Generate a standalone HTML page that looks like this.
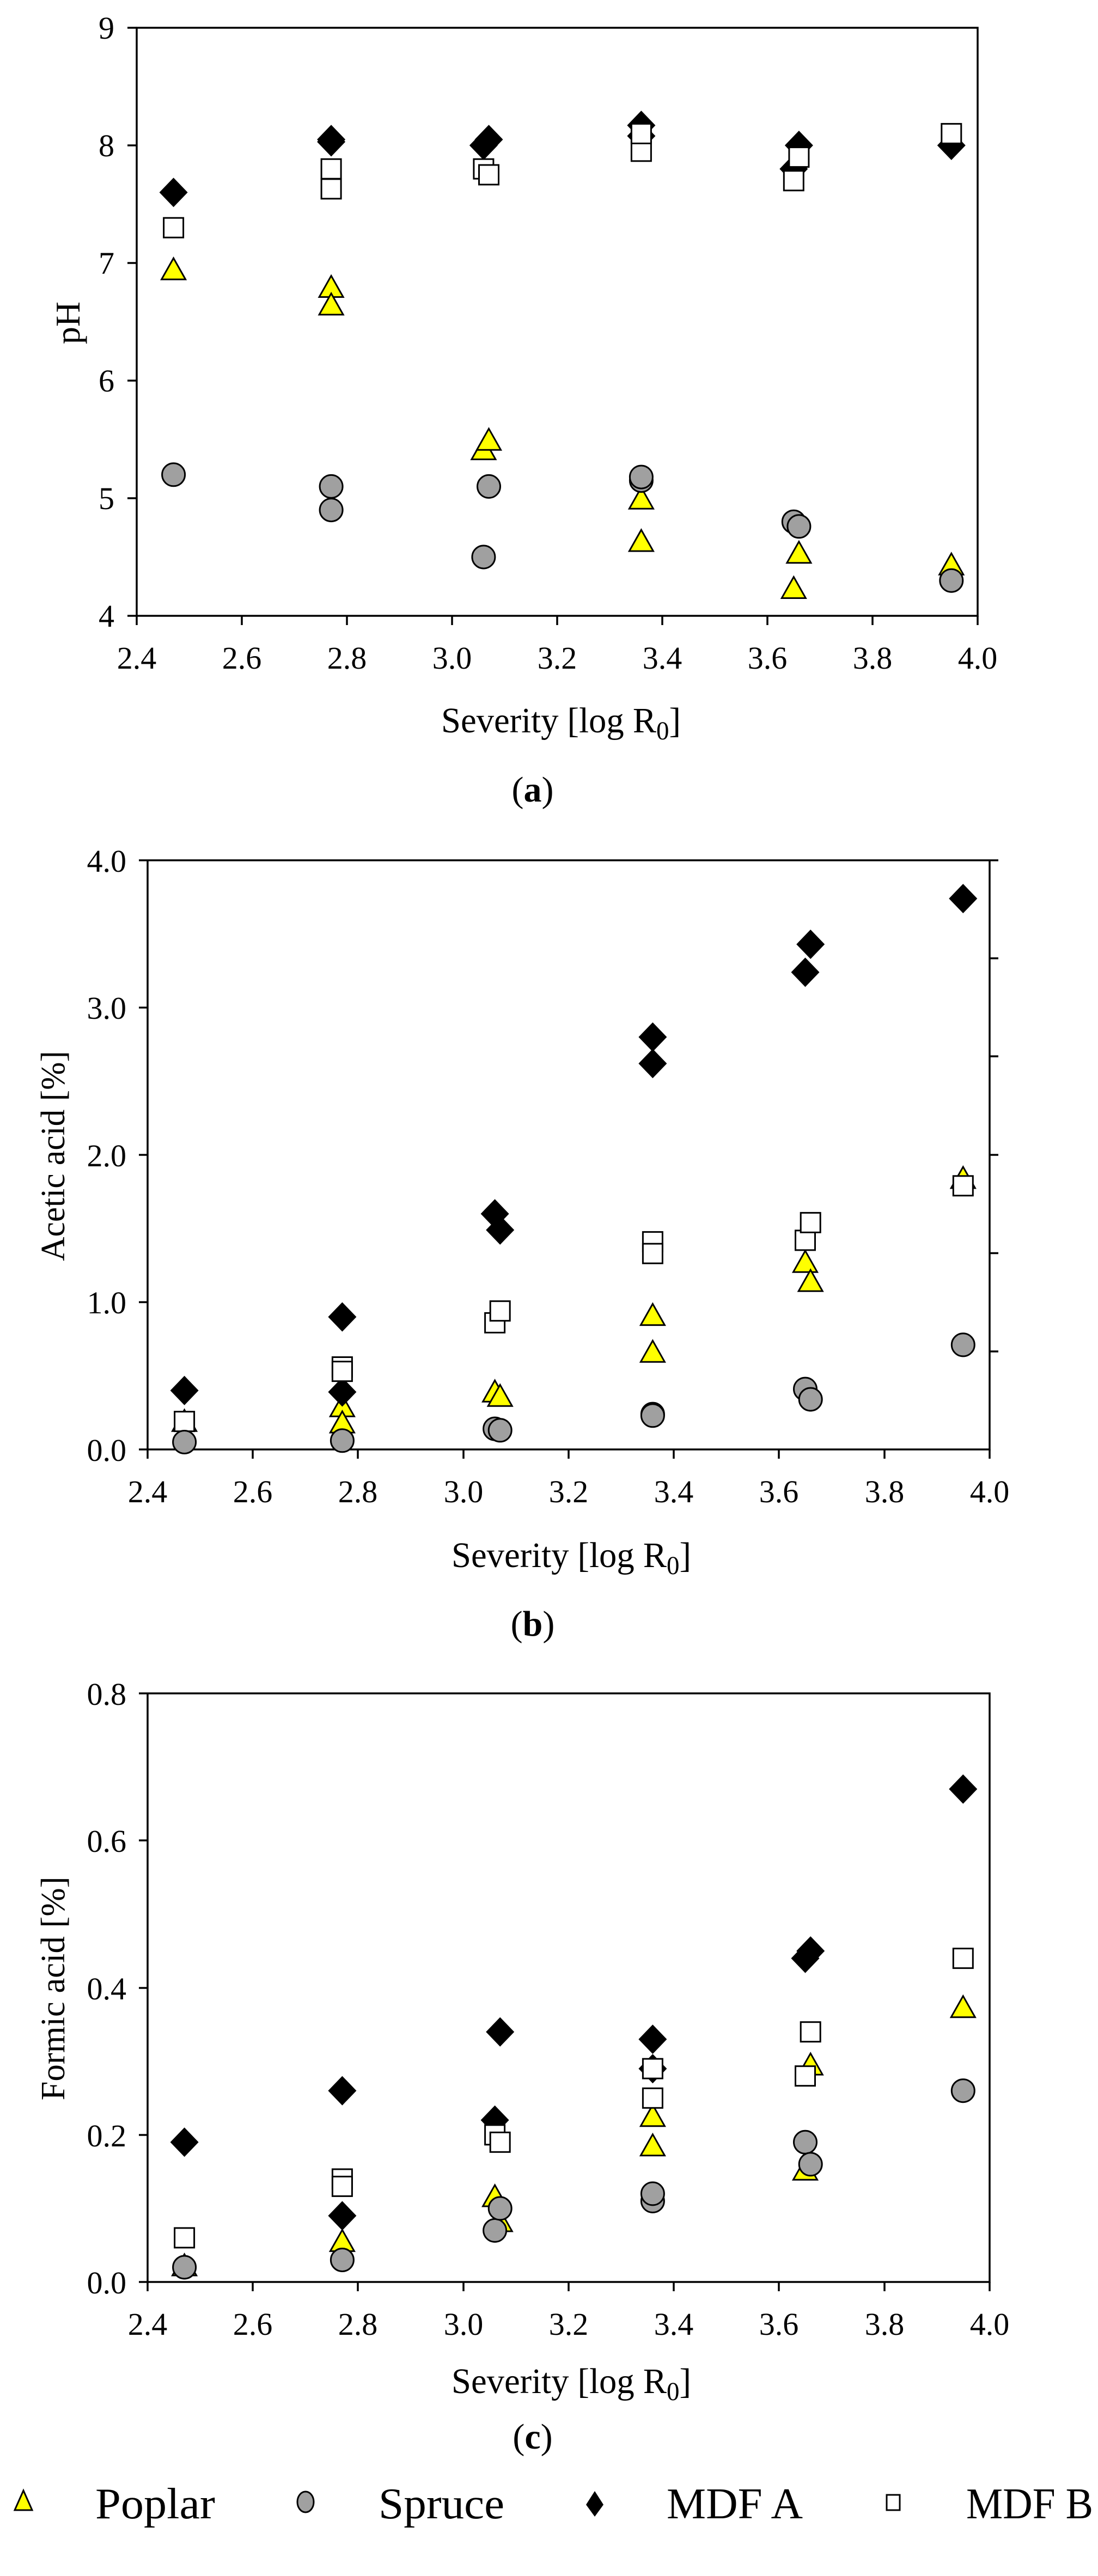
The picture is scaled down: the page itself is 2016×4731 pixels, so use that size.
<!DOCTYPE html>
<html><head><meta charset="utf-8">
<style>
html,body{margin:0;padding:0;background:#fff;}
svg{display:block;}
text{font-family:"Liberation Serif",serif;fill:#000;}
</style></head>
<body>
<svg id="s" width="2016" height="4731" viewBox="0 0 2016 4731" xmlns="http://www.w3.org/2000/svg">
<defs>
<polygon id="tri" points="0,-24 22,15 -22,15" fill="#ffff00" stroke="#000" stroke-width="3" stroke-linejoin="miter"/>
<circle id="cir" r="21" fill="#a0a0a0" stroke="#000" stroke-width="3"/>
<polygon id="dia" points="0,-27 26,0 0,27 -26,0" fill="#000"/>
<rect id="sq" x="-18" y="-18" width="36" height="36" fill="#fff" stroke="#000" stroke-width="3"/>
</defs>
<g stroke="#000" stroke-width="3.5" fill="none">
<rect x="251" y="51" width="1544" height="1080"/>
<path d="M234,51H251M234,267H251M234,483H251M234,699H251M234,915H251M234,1131H251"/>
<path d="M251,1131V1148M444,1131V1148M637,1131V1148M830,1131V1148M1023,1131V1148M1216,1131V1148M1409,1131V1148M1602,1131V1148M1795,1131V1148"/>
<path d="M255,1580H1833M271,1580V2662H1817V1580"/>
<path d="M255,2662H271M255,2391.5H271M255,2121H271M255,1850.5H271"/>
<path d="M1817,2482H1833M1817,2301.5H1833M1817,2121H1833M1817,1940H1833M1817,1760H1833"/>
<path d="M271,2662V2679M464,2662V2679M657,2662V2679M851,2662V2679M1044,2662V2679M1237,2662V2679M1430,2662V2679M1624,2662V2679M1817,2662V2679"/>
<path d="M255,3110H1817V4191H271V3110"/>
<path d="M255,4191H271M255,3921H271M255,3651H271M255,3380H271"/>
<path d="M271,4191V4208M464,4191V4208M657,4191V4208M851,4191V4208M1044,4191V4208M1237,4191V4208M1430,4191V4208M1624,4191V4208M1817,4191V4208"/>
</g>
<g id="pts"></g>
<g font-size="58" text-anchor="end">
<text x="210" y="71">9</text><text x="210" y="287">8</text><text x="210" y="503">7</text><text x="210" y="719">6</text><text x="210" y="935">5</text><text x="210" y="1151">4</text>
</g>
<g font-size="58" text-anchor="middle">
<text x="251" y="1228">2.4</text><text x="444" y="1228">2.6</text><text x="637" y="1228">2.8</text><text x="830" y="1228">3.0</text><text x="1023" y="1228">3.2</text><text x="1216" y="1228">3.4</text><text x="1409" y="1228">3.6</text><text x="1602" y="1228">3.8</text><text x="1795" y="1228">4.0</text>
</g>
<text x="0" y="0" font-size="64" text-anchor="middle" transform="translate(146,593) rotate(-90)">pH</text>
<text x="1030" y="1345" font-size="66" text-anchor="middle" textLength="440" lengthAdjust="spacingAndGlyphs">Severity [log R<tspan font-size="48" dy="13">0</tspan><tspan dy="-13">]</tspan></text>
<text x="978" y="1472" font-size="66" text-anchor="middle">(<tspan font-weight="bold">a</tspan>)</text>
<g font-size="58" text-anchor="end">
<text x="232" y="2683">0.0</text><text x="232" y="2412">1.0</text><text x="232" y="2142">2.0</text><text x="232" y="1871">3.0</text><text x="232" y="1601">4.0</text>
</g>
<g font-size="58" text-anchor="middle">
<text x="271" y="2759">2.4</text><text x="464" y="2759">2.6</text><text x="657" y="2759">2.8</text><text x="851" y="2759">3.0</text><text x="1044" y="2759">3.2</text><text x="1237" y="2759">3.4</text><text x="1430" y="2759">3.6</text><text x="1624" y="2759">3.8</text><text x="1817" y="2759">4.0</text>
</g>
<text x="0" y="0" font-size="62" text-anchor="middle" textLength="386" lengthAdjust="spacingAndGlyphs" transform="translate(118,2123) rotate(-90)">Acetic acid [%]</text>
<text x="1049" y="2878" font-size="66" text-anchor="middle" textLength="440" lengthAdjust="spacingAndGlyphs">Severity [log R<tspan font-size="48" dy="13">0</tspan><tspan dy="-13">]</tspan></text>
<text x="978" y="3004" font-size="66" text-anchor="middle">(<tspan font-weight="bold">b</tspan>)</text>
<g font-size="58" text-anchor="end">
<text x="232" y="4212">0.0</text><text x="232" y="3942">0.2</text><text x="232" y="3672">0.4</text><text x="232" y="3401">0.6</text><text x="232" y="3131">0.8</text>
</g>
<g font-size="58" text-anchor="middle">
<text x="271" y="4288">2.4</text><text x="464" y="4288">2.6</text><text x="657" y="4288">2.8</text><text x="851" y="4288">3.0</text><text x="1044" y="4288">3.2</text><text x="1237" y="4288">3.4</text><text x="1430" y="4288">3.6</text><text x="1624" y="4288">3.8</text><text x="1817" y="4288">4.0</text>
</g>
<text x="0" y="0" font-size="62" text-anchor="middle" textLength="411" lengthAdjust="spacingAndGlyphs" transform="translate(118,3652) rotate(-90)">Formic acid [%]</text>
<text x="1049" y="4395" font-size="66" text-anchor="middle" textLength="440" lengthAdjust="spacingAndGlyphs">Severity [log R<tspan font-size="48" dy="13">0</tspan><tspan dy="-13">]</tspan></text>
<text x="978" y="4497" font-size="66" text-anchor="middle">(<tspan font-weight="bold">c</tspan>)</text>
<polygon points="43,4574 59,4610 27,4610" fill="#ffff00" stroke="#000" stroke-width="3"/>
<ellipse cx="561" cy="4595" rx="15" ry="19" fill="#a0a0a0" stroke="#000" stroke-width="3"/>
<polygon points="1092,4575 1108,4600 1092,4622 1076,4600" fill="#000"/>
<rect x="1628" y="4582" width="24" height="28" fill="#fff" stroke="#000" stroke-width="3"/>
<g font-size="80">
<text x="175" y="4625" textLength="220" lengthAdjust="spacingAndGlyphs">Poplar</text>
<text x="695" y="4625" textLength="231" lengthAdjust="spacingAndGlyphs">Spruce</text>
<text x="1224" y="4625" textLength="250" lengthAdjust="spacingAndGlyphs">MDF A</text>
<text x="1774" y="4625" textLength="233" lengthAdjust="spacingAndGlyphs">MDF B</text>
</g>
</svg>
<script>
(function(){
var NS="http://www.w3.org/2000/svg",g=document.getElementById("pts");
function xa(v){return 251+(v-2.4)*965;} function ya(v){return 1131-(v-4)*216;}
function xb(v){return 271+(v-2.4)*966;} function yb(v){return 2662-v*270.5;}
function yc(v){return 4191-v*1351;}
var A={P:[[2.47,6.93],[2.77,6.78],[2.77,6.63],[3.06,5.4],[3.07,5.48],[3.36,4.98],[3.36,4.62],[3.65,4.22],[3.66,4.52],[3.95,4.42]],
S:[[2.47,5.2],[2.77,5.1],[2.77,4.9],[3.06,4.5],[3.07,5.1],[3.36,5.15],[3.36,5.18],[3.65,4.8],[3.66,4.76],[3.95,4.3]],
D:[[2.47,7.6],[2.77,8.03],[2.77,8.05],[3.06,8.0],[3.07,8.05],[3.36,8.17],[3.36,8.08],[3.65,7.8],[3.66,8.0],[3.95,8.0]],
Q:[[2.47,7.3],[2.77,7.8],[2.77,7.63],[3.06,7.8],[3.07,7.75],[3.36,7.95],[3.36,8.1],[3.65,7.7],[3.66,7.9],[3.95,8.1]]};
var B={P:[[2.47,0.18],[2.77,0.28],[2.77,0.17],[3.06,0.38],[3.07,0.35],[3.36,0.9],[3.36,0.65],[3.65,1.26],[3.66,1.13],[3.95,1.83]],
S:[[2.47,0.05],[2.77,0.06],[3.06,0.14],[3.07,0.13],[3.36,0.24],[3.36,0.23],[3.65,0.41],[3.66,0.34],[3.95,0.71]],
D:[[2.47,0.40],[2.77,0.9],[2.77,0.39],[3.06,1.6],[3.07,1.49],[3.36,2.8],[3.36,2.62],[3.65,3.24],[3.66,3.43],[3.95,3.74]],
Q:[[2.47,0.19],[2.77,0.56],[2.77,0.53],[3.06,0.86],[3.07,0.94],[3.36,1.41],[3.36,1.33],[3.65,1.42],[3.66,1.54],[3.95,1.79]]};
var C={P:[[2.47,0.02],[2.77,0.053],[3.06,0.114],[3.07,0.08],[3.36,0.223],[3.36,0.183],[3.65,0.15],[3.66,0.293],[3.95,0.371]],
S:[[2.47,0.02],[2.77,0.03],[3.06,0.07],[3.07,0.10],[3.36,0.11],[3.36,0.12],[3.65,0.19],[3.66,0.16],[3.95,0.26]],
D:[[2.47,0.19],[2.77,0.26],[2.77,0.09],[3.06,0.22],[3.07,0.34],[3.36,0.33],[3.36,0.29],[3.65,0.44],[3.66,0.45],[3.95,0.67]],
Q:[[2.47,0.06],[2.77,0.14],[2.77,0.13],[3.06,0.2],[3.07,0.19],[3.36,0.25],[3.36,0.29],[3.65,0.28],[3.66,0.34],[3.95,0.44]]};
var ids={P:"#tri",S:"#cir",D:"#dia",Q:"#sq"},order=["P","D","Q","S"];
function draw(data,fx,fy){order.forEach(function(k){data[k].forEach(function(p){
var u=document.createElementNS(NS,"use");u.setAttribute("href",ids[k]);
u.setAttribute("x",fx(p[0]).toFixed(1));u.setAttribute("y",fy(p[1]).toFixed(1));g.appendChild(u);});});}
draw(A,xa,ya);draw(B,xb,yb);draw(C,xb,yc);
})();
</script>
</body></html>
